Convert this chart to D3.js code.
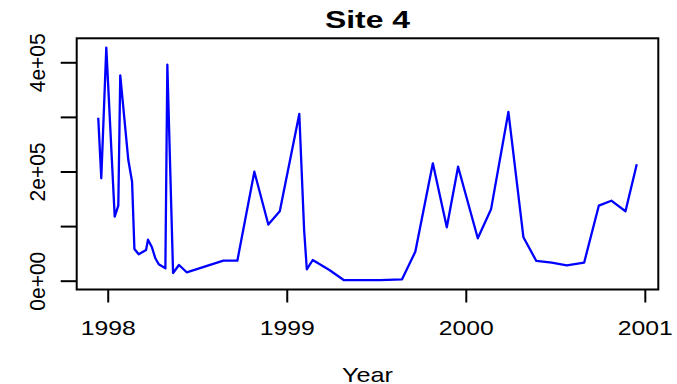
<!DOCTYPE html>
<html>
<head>
<meta charset="utf-8">
<script src="https://cdn.jsdelivr.net/npm/d3@7"></script>
<style>
  html, body { margin: 0; padding: 0; background: #fff; }
  svg { display: block; }
  text { font-family: "Liberation Sans", Arial, Helvetica, sans-serif; fill: #000; }
</style>
</head>
<body>
<svg id="chart" width="677" height="384"></svg>
<script>
// Sampling times (decimal years) and measured values at Site 4
const years = [
  1997.947, 1997.964, 1997.992, 1998.039, 1998.059, 1998.070, 1998.115, 1998.136,
  1998.149, 1998.173, 1998.214, 1998.225, 1998.247, 1998.266, 1998.285, 1998.322,
  1998.333, 1998.365, 1998.398, 1998.441, 1998.646, 1998.724, 1998.819, 1998.897,
  1998.961, 1999.070, 1999.097, 1999.112, 1999.145, 1999.238, 1999.318, 1999.400,
  1999.520, 1999.644, 1999.718, 1999.816, 1999.894, 1999.957, 2000.067, 2000.141,
  2000.238, 2000.322, 2000.394, 2000.480, 2000.564, 2000.661, 2000.743, 2000.813,
  2000.892, 2000.955
];
const values = [
  298500, 187500, 426900, 117200, 137400, 376200, 221000, 181300,
   58000,  48300,  56200,  75100,  61100,  41000,  30000,  22700,
  395600,  14100,  28800,  15400,  36600,  36600, 199600, 102800,
  127100, 305300,  92800,  20900,  37900,  19600,   1200,    900,
    1000,   2500,  53100, 215000,  97800, 208800,  77600, 130700,
  309000,  79500,  36100,  33000,  28200,  33000, 137400, 146500,
  127100, 213200
];
const xTicks = [1998, 1999, 2000, 2001];
const xTickLabels = ["1998", "1999", "2000", "2001"];
const yTicks = [0, 100000, 200000, 300000, 400000];
const yTickLabels = ["0e+00", "", "2e+05", "", "4e+05"];
const titleText = "Site 4";
const xTitle = "Year";

const svg = d3.select("#chart");
const box = { left: 76.7, right: 658.3, top: 38.3, bottom: 289.5 };

// Axis ranges padded by 4% on each side of the data extent
function padded(ext) {
  const r = ext[1] - ext[0];
  return [ext[0] - 0.04 * r, ext[1] + 0.04 * r];
}
const x = d3.scaleLinear().domain(padded(d3.extent(years))).range([box.left, box.right]);
const y = d3.scaleLinear().domain(padded(d3.extent(values))).range([box.bottom, box.top]);

const points = years.map((t, i) => [t, values[i]]);

// Data line
svg.append("path")
  .datum(points)
  .attr("fill", "none")
  .attr("stroke", "#0000ff")
  .attr("stroke-width", 2.3)
  .attr("stroke-linejoin", "round")
  .attr("d", d3.line().x(d => x(d[0])).y(d => y(d[1])));

// Plot frame
svg.append("rect")
  .attr("x", box.left).attr("y", box.top)
  .attr("width", box.right - box.left).attr("height", box.bottom - box.top)
  .attr("fill", "none").attr("stroke", "#000").attr("stroke-width", 2);

// X axis (ticks below frame)
const xAxis = d3.axisBottom(x)
  .tickValues(xTicks)
  .tickFormat((d, i) => xTickLabels[i])
  .tickSize(13)
  .tickPadding(20);
const gx = svg.append("g").attr("transform", `translate(0,${box.bottom})`).call(xAxis);
gx.select(".domain").remove();
gx.selectAll(".tick line").attr("stroke", "#000").attr("stroke-width", 2);
gx.selectAll(".tick text")
  .attr("font-size", 21)
  .attr("dy", 0)
  .attr("y", 45.5)
  .attr("textLength", 55)
  .attr("lengthAdjust", "spacingAndGlyphs");

// Y axis (ticks left of frame, rotated labels)
const yAxis = d3.axisLeft(y)
  .tickValues(yTicks)
  .tickFormat((d, i) => yTickLabels[i])
  .tickSize(16);
const gy = svg.append("g").attr("transform", `translate(${box.left},0)`).call(yAxis);
gy.select(".domain").remove();
gy.selectAll(".tick line").attr("stroke", "#000").attr("stroke-width", 2);
gy.selectAll(".tick text")
  .attr("font-size", 21)
  .attr("x", null).attr("dy", null)
  .attr("text-anchor", "middle")
  .attr("transform", "translate(-31.5,0) scale(1.08,1) rotate(-90)");

// Title
svg.append("text")
  .attr("x", (box.left + box.right) / 2)
  .attr("y", 28)
  .attr("text-anchor", "middle")
  .attr("font-size", 24)
  .attr("font-weight", "bold")
  .attr("textLength", 85)
  .attr("lengthAdjust", "spacingAndGlyphs")
  .text(titleText);

// X axis title
svg.append("text")
  .attr("x", (box.left + box.right) / 2)
  .attr("y", 381.5)
  .attr("text-anchor", "middle")
  .attr("font-size", 21)
  .attr("textLength", 51)
  .attr("lengthAdjust", "spacingAndGlyphs")
  .text(xTitle);
</script>
</body>
</html>
